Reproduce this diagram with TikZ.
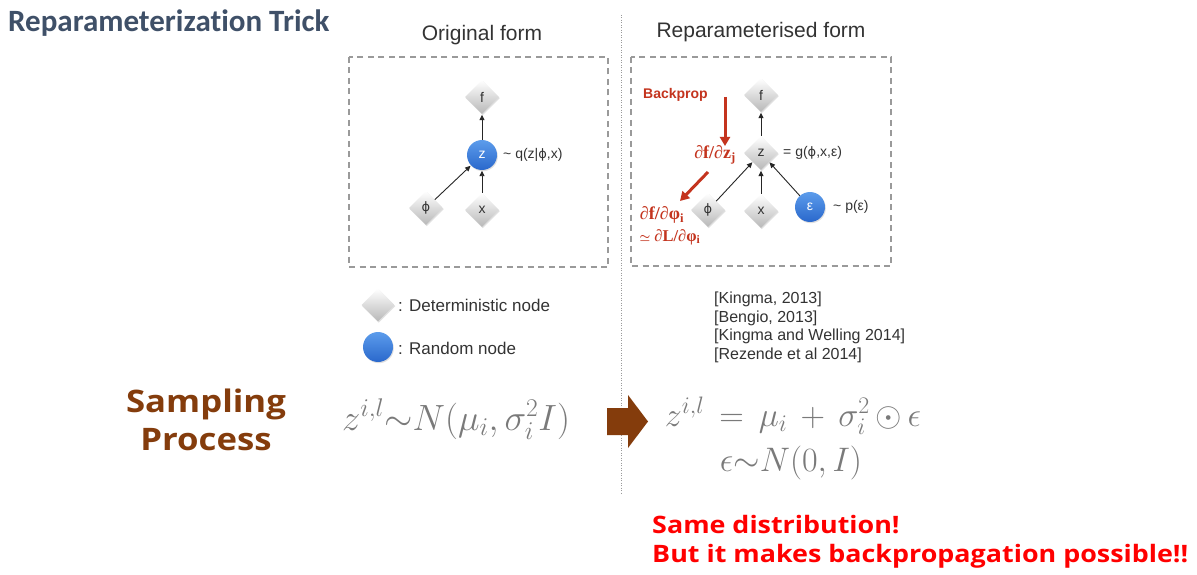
\RequirePackage{fix-cm}
\documentclass[tikz,border=0pt]{standalone}
\usepackage{amsmath}
\usepackage{fontspec}
\setmainfont{Liberation Sans}
\newfontfamily\headfont[Ligatures=NoCommon]{Carlito}
\newfontfamily\widesans[FakeStretch=1.12]{Open Sans}
\newfontfamily\gradfont{Liberation Serif}
\newfontfamily\symfont{DejaVu Sans}
\usetikzlibrary{shapes.geometric,arrows.meta,shadows}

\definecolor{slate}{HTML}{3F5068}
\definecolor{brown}{HTML}{843C0C}
\definecolor{mathgray}{HTML}{7A7A7A}
\definecolor{gradred}{RGB}{196,52,30}
\definecolor{boxgray}{HTML}{9A9A9A}
\definecolor{inkgray}{HTML}{333333}
\definecolor{ballhi}{HTML}{5C9CEB}
\definecolor{balllo}{HTML}{2A68CC}

\newcommand{\phisym}{{\symfont\fontsize{13}{15}\selectfont ϕ}}

\tikzset{
  detnode/.style={diamond, minimum size=34pt, inner sep=0pt, draw=none,
    top color=white, bottom color=black!28, text=inkgray,
    font=\fontsize{14}{16}\selectfont,
    drop shadow={opacity=0.25, shadow xshift=0.8pt, shadow yshift=-1.2pt}},
  rndnode/.style={circle, minimum size=30pt, inner sep=0pt, draw=none,
    top color=ballhi, bottom color=balllo, text=white,
    font=\fontsize{14}{16}\selectfont,
    drop shadow={opacity=0.25, shadow xshift=0.8pt, shadow yshift=-1.2pt}},
  edge/.style={line width=0.9pt, draw=black!85,
    -{Triangle[width=5pt,length=5.5pt]}, shorten >=0.5pt},
  gradarrow/.style={line width=3pt, draw=gradred,
    -{Triangle[width=10pt,length=9pt]}},
  framebox/.style={draw=boxgray, line width=1.1pt, dash pattern=on 6pt off 4.5pt},
  annot/.style={anchor=west, text=inkgray, font=\fontsize{14}{16}\selectfont, inner sep=0pt},
  gradtext/.style={text=gradred, inner sep=0pt, font=\gradfont\bfseries\fontsize{18}{20}\selectfont},
  caption/.style={text=inkgray, font=\fontsize{21}{24}\selectfont, inner sep=0pt},
  eqn/.style={text=mathgray, inner sep=0pt, anchor=base, font=\fontsize{34}{40}\selectfont},
}

\begin{document}
\begin{tikzpicture}[x=1pt, y=-1pt]
  \useasboundingbox (0,0) rectangle (1197,575);
  \fill[white] (0,0) rectangle (1197,575);

  % heading
  \node[anchor=west, inner sep=0pt, text=slate, font=\headfont\bfseries\fontsize{31}{35}\selectfont]
    (title) at (8,23) {Reparameterization Trick};

  % separator between the two forms
  \coordinate (sepTop) at (621,15);
  \coordinate (sepBot) at (621,495);
  \draw[boxgray, line width=0.8pt, dash pattern=on 1pt off 1.5pt] (sepTop) -- (sepBot);

  % ---------------- original form ----------------
  \node[caption] (capL) at (482,35) {Original form};
  \draw[framebox] (349,57) rectangle (608,267);

  \node[detnode] (fL) at (482,97) {f};
  \node[rndnode] (zL) at (482,155) {z};
  \node[detnode] (phiL) at (426,208) {\phisym};
  \node[detnode] (xL) at (482,210) {x};
  \node[annot] (qL) at (503,155) {\textasciitilde{} q(z|\phisym,x)};

  \draw[edge] (zL) -- (fL);
  \draw[edge] (xL) -- (zL);
  \draw[edge] (phiL) -- (zL);

  % ---------------- reparameterised form ----------------
  \node[caption] (capR) at (761,32) {Reparameterised form};
  \draw[framebox] (631,57) rectangle (891,266);

  \node[detnode] (fR) at (761,95) {f};
  \node[detnode] (zR) at (761,153) {z};
  \node[detnode] (phiR) at (708,210) {\phisym};
  \node[detnode] (xR) at (761,211) {x};
  \node[rndnode] (epsR) at (810,207) {ε};
  \node[annot] (gR) at (783,153) {= g(\phisym,x,ε)};
  \node[annot] (pR) at (833,207) {\textasciitilde{} p(ε)};

  \draw[edge] (zR) -- (fR);
  \draw[edge] (xR) -- (zR);
  \draw[edge] (phiR) -- (zR);
  \draw[edge] (epsR) -- (zR);

  % gradient flow
  \node[anchor=west, inner sep=0pt, text=gradred, font=\bfseries\fontsize{14}{16}\selectfont]
    (bp) at (643,95) {Backprop};
  \coordinate (bpTop) at (725,97);
  \coordinate (bpEnd) at (725,146);
  \draw[gradarrow] (bpTop) -- (bpEnd);
  \node[gradtext] (dfdz) at (715,155) {∂f/∂z\textsubscript{j}};
  \coordinate (bp2Top) at (708,172);
  \coordinate (bp2End) at (680,201);
  \draw[gradarrow] (bp2Top) -- (bp2End);
  \node[gradtext] (dfdphi) at (662,215) {∂f/∂φ\textsubscript{i}};
  \node[gradtext, font=\gradfont\bfseries\fontsize{16.5}{19}\selectfont] (dLdphi) at (670,237)
    {{\normalfont\fontsize{12}{14}\selectfont$\boldsymbol{\simeq}$} ∂L/∂φ\textsubscript{i}};

  % ---------------- legend ----------------
  \node[detnode, minimum size=33pt] (legDet) at (378,305) {};
  \node[annot, font=\fontsize{17}{19}\selectfont] (legDetTxt) at (398,305) {: Deterministic node};
  \node[rndnode] (legRnd) at (378,347) {};
  \node[annot, font=\fontsize{17}{19}\selectfont] (legRndTxt) at (398,348) {: Random node};

  % references
  \node[anchor=north west, align=left, inner sep=0pt, text=inkgray,
        font=\fontsize{16}{18.5}\selectfont] (refs) at (714,292)
    {{[Kingma, 2013]}\\ {[Bengio, 2013]}\\ {[Kingma and Welling 2014]}\\ {[Rezende et al 2014]}};

  % ---------------- sampling process ----------------
  \node[align=center, inner sep=0pt, text=brown, font=\widesans\bfseries\fontsize{31}{38}\selectfont]
    (sampling) at (206,420) {Sampling\\Process};
  \node[eqn, font=\fontsize{36.5}{42}\selectfont] (eqL) at (456,430) {$z^{i,l}{\sim}N(\mu_i,\sigma_i^2 I)$};

  \fill[brown] (607,408) -- (628,408) -- (628,395) -- (648,421.5) -- (628,448)
    -- (628,435) -- (607,435) -- cycle;

  \node[eqn] (eqR1) at (793,426) {$z^{i,l}\,=\,\mu_i\,+\,\sigma_i^2\,{\odot}\,\epsilon$};
  \node[eqn] (eqR2) at (791,471) {$\epsilon{\sim}N(0,I)$};

  % conclusion
  \node[anchor=north west, align=left, inner sep=0pt, text=red,
        font=\widesans\bfseries\fontsize{24}{29}\selectfont] (concl) at (652,515)
    {Same distribution!\\But it makes backpropagation possible!!};
\end{tikzpicture}
\end{document}
